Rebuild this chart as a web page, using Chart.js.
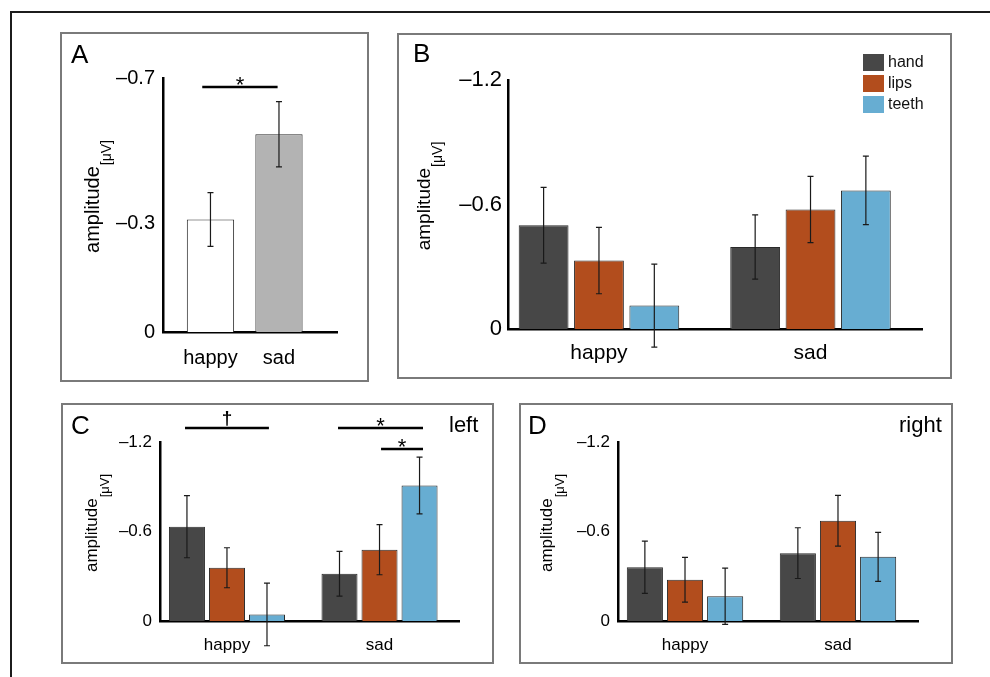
<!DOCTYPE html>
<html>
<head>
<meta charset="utf-8">
<script src="https://cdn.jsdelivr.net/npm/chart.js@4.4.1/dist/chart.umd.min.js"></script>
<style>
  body { margin: 0; background: #fff; width: 990px; height: 677px; overflow: hidden; position: relative;
         font-family: 'Liberation Sans', Arial, sans-serif; }
  .frame { position: absolute; left: 10px; top: 11px; width: 1000px; height: 700px; border: 2px solid #1c1c1c; }
  .box { position: absolute; border: 2px solid #7a7a7a; box-sizing: border-box; }
  canvas { position: absolute; }
  .lbl { position: absolute; line-height: 1; color: #000; white-space: nowrap; }
</style>
</head>
<body>
<div class="frame"></div>

<div class="box" style="left:60px;top:32px;width:309px;height:350px"></div>
<div class="box" style="left:397px;top:33px;width:555px;height:346px"></div>
<div class="box" style="left:61px;top:403px;width:433px;height:261px"></div>
<div class="box" style="left:519px;top:403px;width:434px;height:261px"></div>

<canvas id="chartA" width="309" height="350" style="left:60px;top:32px"></canvas>
<canvas id="chartB" width="555" height="346" style="left:397px;top:33px"></canvas>
<canvas id="chartC" width="433" height="261" style="left:61px;top:403px"></canvas>
<canvas id="chartD" width="434" height="261" style="left:519px;top:403px"></canvas>

<div class="lbl" style="left:71px;top:41px;font-size:26px">A</div>
<div class="lbl" style="left:413px;top:40px;font-size:26px">B</div>
<div class="lbl" style="left:71px;top:412px;font-size:26px">C</div>
<div class="lbl" style="left:528px;top:412px;font-size:26px">D</div>
<div class="lbl" style="left:449px;top:414px;font-size:22px">left</div>
<div class="lbl" style="left:899px;top:414px;font-size:22px">right</div>

<script>
// categories and conditions
const categories = ['happy', 'sad'];
const conditions = ['hand', 'lips', 'teeth'];
const conditionColors = ['#474747', '#b24d1d', '#67add2'];

// tick values
const ticksA = [-0.7, -0.3, 0];
const ticksBCD = [-1.2, -0.6, 0];

// panel A: emotion only
const meansA = [-0.31, -0.545];
const errorsA = [0.074, 0.09];
const colorsA = ['#ffffff', '#b3b3b3'];

// panel B: hand / lips / teeth, each [happy, sad]
const meansB = [[-0.50, -0.395], [-0.33, -0.576], [-0.113, -0.668]];
const errorsB = [[0.183, 0.155], [0.16, 0.16], [0.20, 0.165]];

// panel C: left hemisphere
const meansC = [[-0.632, -0.317], [-0.357, -0.478], [-0.044, -0.908]];
const errorsC = [[0.208, 0.15], [0.134, 0.168], [0.21, 0.19]];

// panel D: right hemisphere
const meansD = [[-0.36, -0.455], [-0.277, -0.672], [-0.166, -0.43]];
const errorsD = [[0.175, 0.17], [0.15, 0.17], [0.188, 0.164]];

// significance markers (x in category units, level in µV)
const sigA = [{from: 0.88, to: 1.98, level: -0.675, mark: '*'}];
const sigC = [
  {from: 0.725, to: 1.275, level: -1.294, mark: '\u2020'},
  {from: 1.728, to: 2.285, level: -1.294, mark: '*'},
  {from: 2.01, to: 2.285, level: -1.153, mark: '*'}
];

const FONT = "'Liberation Sans', Arial, sans-serif";
Chart.defaults.font.family = FONT;
Chart.defaults.color = '#000';

// Error bars drawn on top of each bar
const errorBars = {
  id: 'errorBars',
  afterDatasetsDraw(chart) {
    const ctx = chart.ctx;
    const y = chart.scales.y;
    chart.data.datasets.forEach((ds, i) => {
      chart.getDatasetMeta(i).data.forEach((bar, j) => {
        const v = ds.data[j].y, e = ds.errors[j];
        const top = y.getPixelForValue(v - e);
        const bot = y.getPixelForValue(v + e);
        ctx.save();
        ctx.strokeStyle = '#1a1a1a';
        ctx.lineWidth = 1.2;
        ctx.beginPath();
        ctx.moveTo(bar.x, top); ctx.lineTo(bar.x, bot);
        ctx.moveTo(bar.x - 3, top); ctx.lineTo(bar.x + 3, top);
        ctx.moveTo(bar.x - 3, bot); ctx.lineTo(bar.x + 3, bot);
        ctx.stroke();
        ctx.restore();
      });
    });
  }
};

// Significance lines with their marks
const sigBars = {
  id: 'sigBars',
  afterDraw(chart, args, opts) {
    const {ctx, scales: {x, y}} = chart;
    (opts.items || []).forEach(s => {
      const x1 = x.getPixelForValue(s.from);
      const x2 = x.getPixelForValue(s.to);
      const py = y.getPixelForValue(s.level);
      ctx.save();
      ctx.strokeStyle = '#000';
      ctx.lineWidth = 2.5;
      ctx.beginPath(); ctx.moveTo(x1, py); ctx.lineTo(x2, py); ctx.stroke();
      ctx.fillStyle = '#000';
      ctx.font = (s.mark === '*' ? '22px ' : 'bold 19px ') + FONT;
      ctx.textAlign = 'center';
      ctx.textBaseline = 'alphabetic';
      const m = ctx.measureText(s.mark);
      ctx.fillText(s.mark, (x1 + x2) / 2, py - 2 - m.actualBoundingBoxDescent);
      ctx.restore();
    });
  }
};

// "amplitude" with the [µV] subscript
const ampTitle = {
  id: 'ampTitle',
  afterDraw(chart, args, o) {
    const {ctx, chartArea: a} = chart;
    ctx.save();
    ctx.translate(a.left - o.gap, (a.top + a.bottom) / 2 - 8);
    ctx.rotate(-Math.PI / 2);
    ctx.fillStyle = '#000';
    ctx.textBaseline = 'alphabetic';
    ctx.font = o.size + 'px ' + FONT;
    const w1 = ctx.measureText('amplitude').width;
    ctx.font = o.sub + 'px ' + FONT;
    const w2 = ctx.measureText('[\u03bcV]').width;
    const sx = -(w1 + w2) / 2;
    ctx.font = o.size + 'px ' + FONT;
    ctx.fillText('amplitude', sx, 0);
    ctx.font = o.sub + 'px ' + FONT;
    ctx.fillText('[\u03bcV]', sx + w1 + 1, o.drop);
    ctx.restore();
  }
};

// Legend in the upper right of the plot
const boxLegend = {
  id: 'boxLegend',
  afterDraw(chart) {
    const {ctx, chartArea: a} = chart;
    chart.data.datasets.forEach((ds, i) => {
      const x = a.right - 59, y = a.top - 26 + i * 21;
      ctx.save();
      ctx.fillStyle = ds.backgroundColor;
      ctx.fillRect(x, y, 21, 17);
      ctx.fillStyle = '#111';
      ctx.font = '16px ' + FONT;
      ctx.textBaseline = 'middle';
      ctx.fillText(ds.label, x + 25, y + 9);
      ctx.restore();
    });
  }
};

function makeChart(id, p) {
  const datasets = p.means.map((vals, i) => ({
    label: p.labels[i],
    data: vals.map((v, j) => ({x: j + 1, y: v})),
    errors: p.errors[i],
    backgroundColor: p.colors[i],
    borderColor: '#2a2a2a',
    borderWidth: 1,
    categoryPercentage: p.catPct,
    barPercentage: p.barPct
  }));
  const plugins = [errorBars, sigBars, ampTitle];
  if (p.legend) plugins.push(boxLegend);
  return new Chart(document.getElementById(id), {
    type: 'bar',
    data: {datasets},
    plugins,
    options: {
      responsive: false,
      animation: false,
      layout: {padding: {left: 0, top: p.top, right: p.right, bottom: 0}},
      plugins: {
        legend: {display: false},
        tooltip: {enabled: false},
        sigBars: {items: p.sig || []},
        ampTitle: {gap: p.gap, size: p.ampSize, sub: p.subSize, drop: 12}
      },
      scales: {
        x: {
          type: 'linear', min: p.xMin, max: p.xMax, bounds: 'data', offset: false, z: 1,
          grid: {display: false, drawTicks: false, offset: false},
          border: {display: true, color: '#000', width: 2.5},
          ticks: {padding: p.xPad, font: {size: p.catSize}, color: '#000', maxRotation: 0, autoSkip: false,
                  callback: v => categories[v - 1]},
          afterBuildTicks: s => { s.ticks = categories.map((c, i) => ({value: i + 1})); },
          afterFit: s => { s.height = p.xHeight; }
        },
        y: {
          type: 'linear', min: p.yTicks[0], max: 0, reverse: true, bounds: 'data',
          grid: {display: false, drawTicks: false},
          border: {display: true, color: '#000', width: 2.5},
          ticks: {padding: p.yPad, font: {size: p.tickSize}, color: '#000',
                  callback: v => v === 0 ? '0' : '\u2013' + Math.abs(v).toFixed(1)},
          afterBuildTicks: s => { s.ticks = p.yTicks.map(v => ({value: v})); },
          afterFit: s => { s.width = p.yWidth; }
        }
      }
    }
  });
}

makeChart('chartA', {
  means: [meansA], errors: [errorsA], colors: [colorsA], labels: ['emotion'],
  yTicks: ticksA, xMin: 0.307, xMax: 2.847, catPct: 0.69, barPct: 1,
  top: 46, right: 32, yWidth: 103, xHeight: 50,
  tickSize: 20, catSize: 20, ampSize: 20, subSize: 14, yPad: 8, xPad: 14, gap: 64,
  sig: sigA
});

makeChart('chartB', {
  means: meansB, errors: errorsB, colors: conditionColors, labels: conditions,
  yTicks: ticksBCD, xMin: 0.57, xMax: 2.527, catPct: 0.785, barPct: 0.9,
  top: 47, right: 30, yWidth: 111, xHeight: 50,
  tickSize: 22, catSize: 21, ampSize: 19, subSize: 14, yPad: 6, xPad: 12, gap: 78,
  legend: true
});

makeChart('chartC', {
  means: meansC, errors: errorsC, colors: conditionColors, labels: conditions,
  yTicks: ticksBCD, xMin: 0.561, xMax: 2.521, catPct: 0.787, barPct: 0.9,
  top: 39, right: 35, yWidth: 99, xHeight: 43,
  tickSize: 17, catSize: 17, ampSize: 17, subSize: 13, yPad: 8, xPad: 14, gap: 63,
  sig: sigC
});

makeChart('chartD', {
  means: meansD, errors: errorsD, colors: conditionColors, labels: conditions,
  yTicks: ticksBCD, xMin: 0.562, xMax: 2.523, catPct: 0.787, barPct: 0.9,
  top: 39, right: 35, yWidth: 99, xHeight: 43,
  tickSize: 17, catSize: 17, ampSize: 17, subSize: 13, yPad: 8, xPad: 14, gap: 66
});
</script>
</body>
</html>
